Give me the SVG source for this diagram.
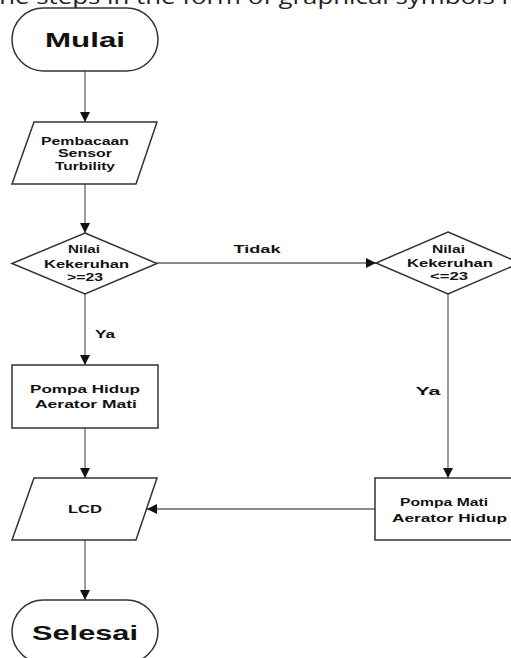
<svg xmlns="http://www.w3.org/2000/svg" width="511" height="658" viewBox="0 0 511 658">
<style>
.shape{fill:#fff;stroke:#333;stroke-width:1.5}
.conn{fill:none;stroke:#666;stroke-width:1.3}
.t{font-family:"Liberation Sans",Arial,sans-serif;font-weight:bold;fill:#111;text-anchor:middle}
.s{font-size:10.5px}
.m{font-size:11.5px}
.b{font-size:21px}
.top{font-family:"Open Sans",sans-serif;font-size:20px;fill:#222}
</style>
<defs>
<marker id="ah" markerWidth="10" markerHeight="10" refX="10" refY="5" orient="auto" markerUnits="userSpaceOnUse">
<path d="M0,0 L10,5 L0,10 Z" fill="#111"/>
</marker>
</defs>
<rect width="511" height="658" fill="#fff"/>
<text class="top" x="-10" y="4" textLength="518" lengthAdjust="spacingAndGlyphs">the steps in the form of graphical symbols i</text>
<g id="connectors">
<line class="conn" x1="85" y1="71" x2="85" y2="122" marker-end="url(#ah)"/>
<line class="conn" x1="85" y1="184" x2="85" y2="233" marker-end="url(#ah)"/>
<line class="conn" x1="157" y1="263" x2="376" y2="263" marker-end="url(#ah)"/>
<line class="conn" x1="85" y1="294" x2="85" y2="365" marker-end="url(#ah)"/>
<line class="conn" x1="448" y1="294" x2="448" y2="478" marker-end="url(#ah)"/>
<line class="conn" x1="85" y1="428" x2="85" y2="478" marker-end="url(#ah)"/>
<line class="conn" x1="375" y1="509" x2="147" y2="509" marker-end="url(#ah)"/>
<line class="conn" x1="85" y1="540" x2="85" y2="600" marker-end="url(#ah)"/>
<text class="t m" x="257" y="252.5" textLength="47" lengthAdjust="spacingAndGlyphs">Tidak</text>
<text class="t m" x="105" y="338" textLength="20" lengthAdjust="spacingAndGlyphs">Ya</text>
<text class="t m" x="428" y="395" textLength="25" lengthAdjust="spacingAndGlyphs">Ya</text>
</g>
<g id="mulai">
<rect class="shape" x="12" y="8" width="146" height="63" rx="31.5"/>
<text class="t b" x="85" y="47" textLength="80" lengthAdjust="spacingAndGlyphs">Mulai</text>
</g>
<g id="baca">
<polygon class="shape" points="34,122 157,122 136,184 12,184"/>
<text class="t s" x="85" y="144.5" textLength="88" lengthAdjust="spacingAndGlyphs">Pembacaan</text>
<text class="t s" x="85" y="157" textLength="54" lengthAdjust="spacingAndGlyphs">Sensor</text>
<text class="t s" x="85" y="170" textLength="60" lengthAdjust="spacingAndGlyphs">Turbility</text>
</g>
<g id="cek1">
<polygon class="shape" points="85,233 157,263.5 85,294 12,263.5"/>
<text class="t m" x="84" y="252.5" textLength="32" lengthAdjust="spacingAndGlyphs">Nilai</text>
<text class="t m" x="86.5" y="268" textLength="85" lengthAdjust="spacingAndGlyphs">Kekeruhan</text>
<text class="t m" x="85" y="280.5" textLength="36" lengthAdjust="spacingAndGlyphs">&gt;=23</text>
</g>
<g id="cek2">
<polygon class="shape" points="448,232 520,263 448,294 376,263"/>
<text class="t s" x="448.5" y="253" textLength="33" lengthAdjust="spacingAndGlyphs">Nilai</text>
<text class="t s" x="450" y="266.5" textLength="86" lengthAdjust="spacingAndGlyphs">Kekeruhan</text>
<text class="t s" x="449" y="280" textLength="38" lengthAdjust="spacingAndGlyphs">&lt;=23</text>
</g>
<g id="pompa-hidup">
<rect class="shape" x="12" y="365" width="146" height="63"/>
<text class="t m" x="85" y="393" textLength="110" lengthAdjust="spacingAndGlyphs">Pompa Hidup</text>
<text class="t m" x="86" y="408" textLength="102" lengthAdjust="spacingAndGlyphs">Aerator Mati</text>
</g>
<g id="pompa-mati">
<rect class="shape" x="375" y="478" width="146" height="62"/>
<text class="t m" x="444" y="505.5" textLength="88" lengthAdjust="spacingAndGlyphs">Pompa Mati</text>
<text class="t m" x="449.5" y="521.5" textLength="115" lengthAdjust="spacingAndGlyphs">Aerator Hidup</text>
</g>
<g id="lcd">
<polygon class="shape" points="34,478 157,478 136,540 12,540"/>
<text class="t m" x="85" y="513" textLength="34" lengthAdjust="spacingAndGlyphs">LCD</text>
</g>
<g id="selesai">
<rect class="shape" x="12" y="600" width="146" height="63" rx="31.5"/>
<text class="t b" x="85" y="640" textLength="106" lengthAdjust="spacingAndGlyphs">Selesai</text>
</g>
</svg>
